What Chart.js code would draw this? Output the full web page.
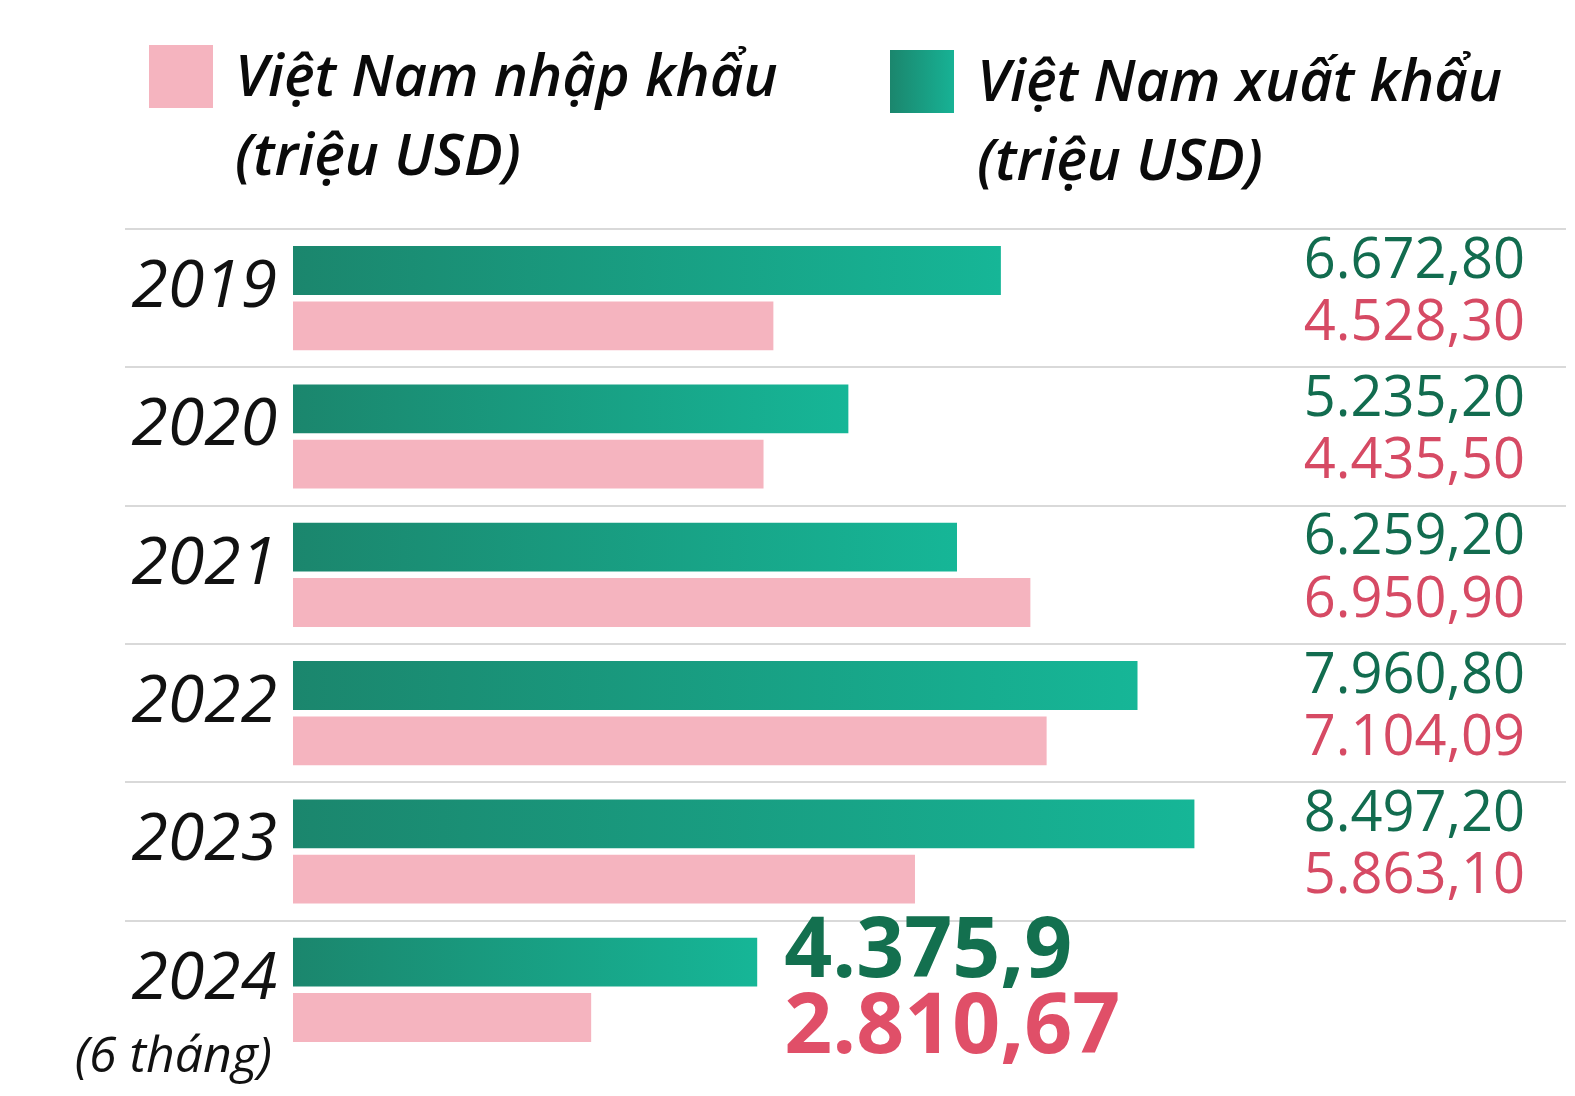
<!DOCTYPE html>
<html lang="vi">
<head>
<meta charset="utf-8">
<title>Việt Nam xuất nhập khẩu</title>
<script src="https://cdn.jsdelivr.net/npm/chart.js@4/dist/chart.umd.min.js"></script>
<style>
  html, body { margin: 0; padding: 0; background: #fff; }
  #wrap { position: relative; width: 1575px; height: 1096px; }
  #chart { position: absolute; left: 0; top: 0; }
  .key { position: absolute; font-family: "Open Sans", sans-serif; font-style: italic; font-weight: 600;
         font-size: 58px; line-height: 79px; color: #0a0a0a; white-space: nowrap; }
  .box { position: absolute; width: 64px; height: 63px; }
</style>
</head>
<body>
<div id="wrap">
  <canvas id="chart" width="1575" height="1096"></canvas>
  <div class="box" style="left:149px;top:45px;background:#f5b4bf"></div>
  <div class="key" style="left:235px;top:34px">Việt Nam nhập khẩu<br>(triệu USD)</div>
  <div class="box" style="left:890px;top:50px;background:linear-gradient(90deg,#1b866d,#17b295)"></div>
  <div class="key" style="left:977px;top:39px">Việt Nam xuất khẩu<br>(triệu USD)</div>
</div>
<script>
const years = ['2019', '2020', '2021', '2022', '2023', '2024'];
const exportValues = [6672.80, 5235.20, 6259.20, 7960.80, 8497.20, 4375.9];
const importValues = [4528.30, 4435.50, 6950.90, 7104.09, 5863.10, 2810.67];
const exportText = ['6.672,80', '5.235,20', '6.259,20', '7.960,80', '8.497,20', '4.375,9'];
const importText = ['4.528,30', '4.435,50', '6.950,90', '7.104,09', '5.863,10', '2.810,67'];
const lastNote = '(6 tháng)';

// green bars go dark -> light along each bar
function greenFill(ctx) {
    const chart = ctx.chart;
    if (!chart.chartArea || ctx.type !== 'data') return '#19a080';
    const x = chart.scales.x;
    const g = chart.ctx.createLinearGradient(x.getPixelForValue(0), 0, x.getPixelForValue(ctx.raw), 0);
    g.addColorStop(0, '#1b866d');
    g.addColorStop(1, '#16b697');
    return g;
}

const valueLabels = {
    id: 'valueLabels',
    afterDatasetsDraw(chart) {
        const c = chart.ctx;
        const last = years.length - 1;
        const sets = [
            { meta: chart.getDatasetMeta(0), text: exportText, color: '#126c4f', big: '#13704f', dy: 7, bigDy: 15 },
            { meta: chart.getDatasetMeta(1), text: importText, color: '#d64a64', big: '#e04f68', dy: 14, bigDy: 35 }
        ];
        c.save();
        sets.forEach(s => {
            s.meta.data.forEach((bar, i) => {
                if (i === last) {
                    c.font = '700 84px "Open Sans"';
                    c.textAlign = 'left';
                    c.fillStyle = s.big;
                    c.fillText(s.text[i], sets[0].meta.data[i].x + 27, bar.y + s.bigDy);
                } else {
                    c.font = '400 56px "Open Sans"';
                    c.textAlign = 'right';
                    c.fillStyle = s.color;
                    c.fillText(s.text[i], 1525, bar.y + s.dy);
                }
            });
        });
        // note under the last year
        const y = chart.scales.y.getPixelForValue(last);
        c.font = 'italic 400 50px "Open Sans"';
        c.textAlign = 'right';
        c.fillStyle = '#111';
        c.fillText(lastNote, 272, y + 82);
        c.restore();
    }
};

new Chart(document.getElementById('chart'), {
    type: 'bar',
    data: {
        labels: years,
        datasets: [
            { label: 'Việt Nam xuất khẩu (triệu USD)', data: exportValues, backgroundColor: greenFill },
            { label: 'Việt Nam nhập khẩu (triệu USD)', data: importValues, backgroundColor: '#f5b4bf' }
        ]
    },
    options: {
        indexAxis: 'y',
        responsive: false,
        animation: false,
        categoryPercentage: 0.8,
        barPercentage: 0.883,
        layout: { padding: { top: 229, bottom: 37, right: 9, left: 0 } },
        plugins: { legend: { display: false }, tooltip: { enabled: false } },
        scales: {
            x: { display: false, min: 0, max: 12000 },
            y: {
                afterFit: scale => { scale.width = 293; },
                border: { display: false },
                grid: {
                    color: ctx => ctx.tick ? '#d9d9d9' : 'rgba(0,0,0,0)',
                    lineWidth: 2,
                    tickLength: 168
                },
                ticks: {
                    color: '#111',
                    padding: -152,
                    labelOffset: -10,
                    font: { family: 'Open Sans', style: 'italic', weight: 400, size: 66 }
                }
            }
        }
    },
    plugins: [valueLabels]
});
</script>
</body>
</html>
